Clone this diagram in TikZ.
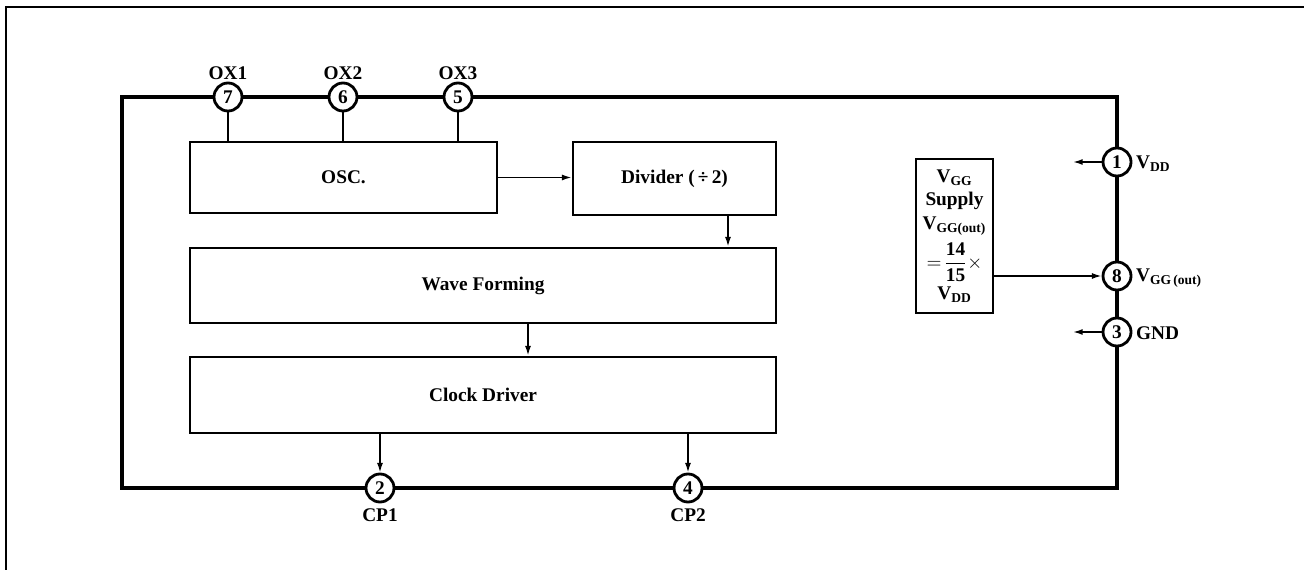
\documentclass[tikz,border=0pt]{standalone}
\usepackage{fontspec}
\setmainfont{Liberation Serif}
\usetikzlibrary{arrows.meta}
\begin{document}
\begin{tikzpicture}[x=0.02cm,y=-0.02cm,
  font=\fontsize{11}{13}\selectfont\bfseries,
  blk/.style={draw,line width=1.6pt,inner sep=0pt},
  pin/.style={draw,circle,fill=white,line width=1.6pt,minimum size=0.56cm,inner sep=0pt},
  chip/.style={line width=2.2pt},
  sig/.style={line width=0.9pt},
  arr/.style={line width=0.9pt,-{Latex[length=5.5pt,width=3.4pt]}},
  lbl/.style={inner sep=1pt}]
\useasboundingbox (0,0) rectangle (1304,570);
% page frame
\draw[line width=0.9pt] (1304,7) -- (6,7) -- (6,570);
% chip outline
\coordinate (tl) at (122,97);
\coordinate (br) at (1117,488);
\draw[chip] (tl) rectangle (br);
% blocks
\node[blk,minimum width=6.14cm,minimum height=1.42cm] (osc) at (343.5,177.5) {OSC.};
\node[blk,minimum width=4.06cm,minimum height=1.46cm] (div) at (674.5,178.5) {Divider (\,÷\,2)};
\node[blk,minimum width=11.72cm,minimum height=1.5cm] (wave) at (483,285.5) {Wave Forming};
\node[blk,minimum width=11.72cm,minimum height=1.52cm] (clk) at (483,395) {Clock Driver};
\node[blk,minimum width=1.54cm,minimum height=3.08cm,align=center,font=\fontsize{11}{12.5}\selectfont\bfseries] (vgg) at (954.5,236)
  {V\textsubscript{GG}\\[1pt]Supply\\[1pt]V\textsubscript{GG(out)}\\[3pt]$=\!\displaystyle\frac{\mathbf{14}}{\mathbf{15}}\times$\\[2pt]V\textsubscript{DD}};
% pins
\node[pin] (p7) at (228,97) {7};
\node[pin] (p6) at (343,97) {6};
\node[pin] (p5) at (458,97) {5};
\node[pin] (p1) at (1117,162) {1};
\node[pin] (p8) at (1117,276) {8};
\node[pin] (p3) at (1117,332) {3};
\node[pin] (p2) at (380,488) {2};
\node[pin] (p4) at (688,488) {4};
% pin labels
\node[lbl] (l7) at (228,73) {OX1};
\node[lbl] (l6) at (343,73) {OX2};
\node[lbl] (l5) at (458,73) {OX3};
\node[lbl,anchor=west] (l1) at (1134,164) {V\textsubscript{DD}};
\node[lbl,anchor=west] (l8) at (1134,278) {V\textsubscript{GG\,(out)}};
\node[lbl,anchor=west] (l3) at (1134,333) {GND};
\node[lbl] (l2) at (380,515) {CP1};
\node[lbl] (l4) at (688,515) {CP2};
% connections
\draw[sig] (p7) -- (p7 |- osc.north);
\draw[sig] (p6) -- (p6 |- osc.north);
\draw[sig] (p5) -- (p5 |- osc.north);
\draw[arr] (osc.east) -- (div.west |- osc.east);
\draw[arr] (728,215) coordinate (d0) -- (d0 |- wave.north);
\draw[arr] (528,323) coordinate (w0) -- (w0 |- clk.north);
\draw[arr] (p2 |- clk.south) -- (p2);
\draw[arr] (p4 |- clk.south) -- (p4);
\draw[arr] (vgg.east |- p8) -- (p8);
\coordinate (o1) at (1073,162);
\coordinate (o3) at (1073,332);
\draw[arr] (p1) -- (o1);
\draw[arr] (p3) -- (o3);
\end{tikzpicture}
\end{document}
